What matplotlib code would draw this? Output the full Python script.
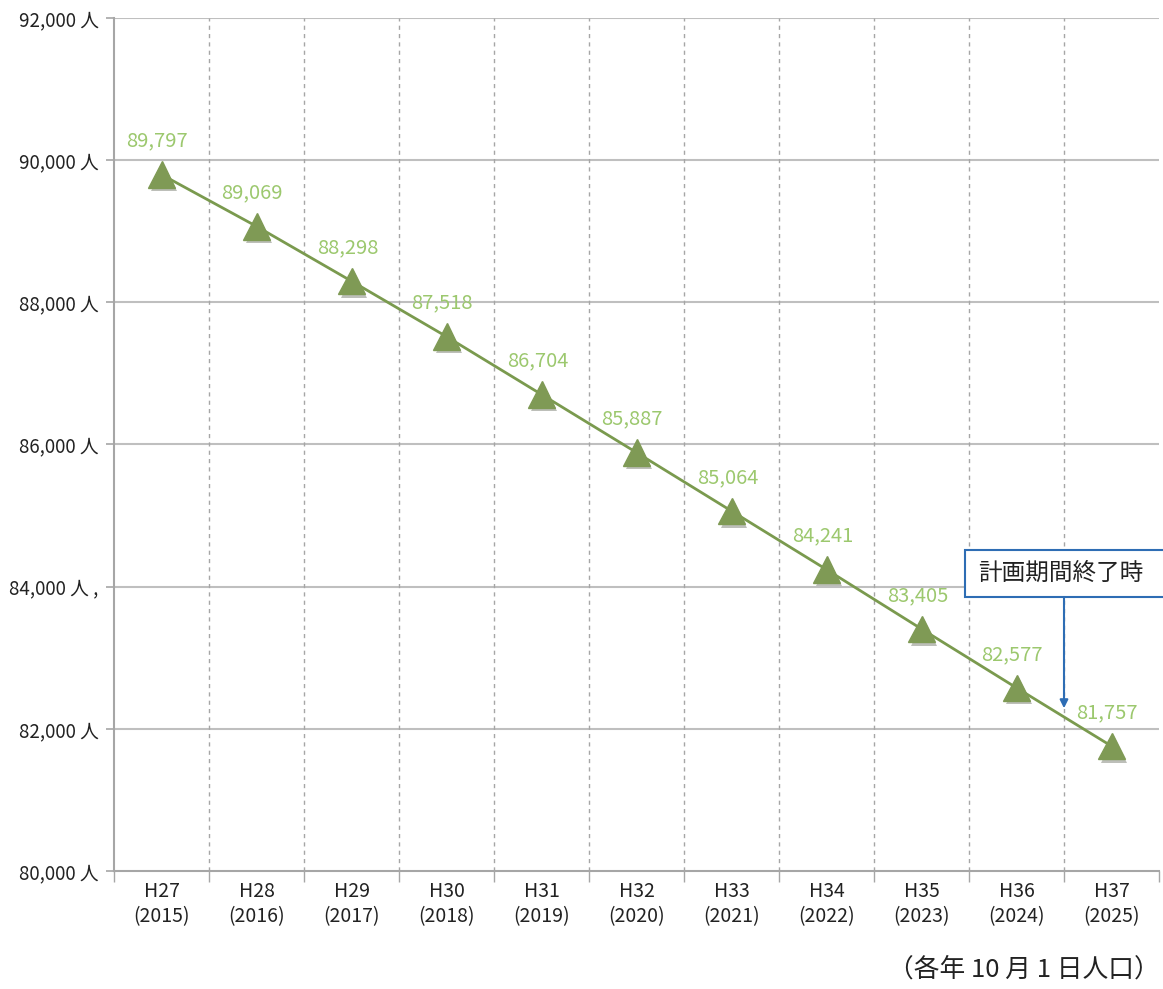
import numpy as np
import matplotlib.pyplot as plt
import matplotlib.patheffects as pe
from matplotlib.patches import Rectangle

plt.rcParams['font.family'] = ['Noto Sans CJK JP', 'DejaVu Sans']

# data
years = ['H27\n(2015)', 'H28\n(2016)', 'H29\n(2017)', 'H30\n(2018)', 'H31\n(2019)',
         'H32\n(2020)', 'H33\n(2021)', 'H34\n(2022)', 'H35\n(2023)', 'H36\n(2024)',
         'H37\n(2025)']
population = [89797, 89069, 88298, 87518, 86704, 85887, 85064, 84241, 83405, 82577, 81757]
yticks = [80000, 82000, 84000, 86000, 88000, 90000, 92000]
ytick_labels = ['80,000 人', '82,000 人', '84,000 人 ,', '86,000 人', '88,000 人',
                '90,000 人', '92,000 人']

fig = plt.figure(figsize=(11.63, 9.89), dpi=100)
ax = fig.add_axes([114/1163, 1 - 871/989, 1045/1163, 853/989])

x = np.arange(len(population))
ax.set_xlim(-0.5, len(population) - 0.5)
ax.set_ylim(80000, 92000)

# grid
for yv in yticks[1:]:
    ax.axhline(yv, color='#bfbfbf', lw=1.5, zorder=1)
for b in np.arange(0.5, len(population) - 0.5, 1):
    ax.axvline(b, color='#a6a6a6', lw=1, ls=(0, (3, 3)), zorder=1)

for s in ['top', 'right']:
    ax.spines[s].set_visible(False)
ax.spines['left'].set_color('#a6a6a6')
ax.spines['bottom'].set_color('#a6a6a6')
ax.spines['left'].set_linewidth(1.5)
ax.spines['bottom'].set_linewidth(1.5)

ax.set_yticks(yticks)
ax.set_yticklabels(ytick_labels, fontsize=13.5, color='#222222')
ax.tick_params(axis='y', length=6, color='#a6a6a6', width=1.2, pad=5)

ax.set_xticks(np.arange(-0.5, len(population), 1))
ax.set_xticklabels([])
ax.tick_params(axis='x', which='major', length=8, color='#a6a6a6', width=1)
ax.set_xticks(x, minor=True)
ax.set_xticklabels(years, minor=True, fontsize=14, color='#222222', linespacing=1.3)
ax.tick_params(axis='x', which='minor', length=0, pad=7)

# line + markers
ax.plot(x, population, color='#7a9a4e', lw=2, zorder=3)
ax.plot(x, population, ls='none', marker='^', ms=19, color='#7f9a55', zorder=4,
        path_effects=[pe.SimplePatchShadow(offset=(2, -2.5), alpha=0.3), pe.Normal()])

for xi, v in zip(x, population):
    ax.annotate(f'{v:,}', (xi, v), xytext=(-3, 24), textcoords='offset points',
                ha='center', va='center', fontsize=14.5, color='#9cc86e', zorder=5)

# annotation box
ax.add_patch(Rectangle((8.46, 83855), 2.4, 661, facecolor='white', edgecolor='#2e6db4',
                       lw=1.5, clip_on=False, zorder=6))
ax.text(8.6, 84185, '計画期間終了時', fontsize=17, color='#222222', va='center',
        ha='left', zorder=7, clip_on=False)
ax.annotate('', xy=(9.5, 82290), xytext=(9.5, 83855),
            arrowprops=dict(arrowstyle='-|>', color='#2e6db4', lw=1.5,
                            mutation_scale=12, shrinkA=0, shrinkB=0), zorder=6)

fig.text(1160/1163, 1 - 970/989, '（各年 10 月 1 日人口）', fontsize=18.5,
         color='#222222', ha='right', va='center')

fig.savefig('out.png', dpi=100)
